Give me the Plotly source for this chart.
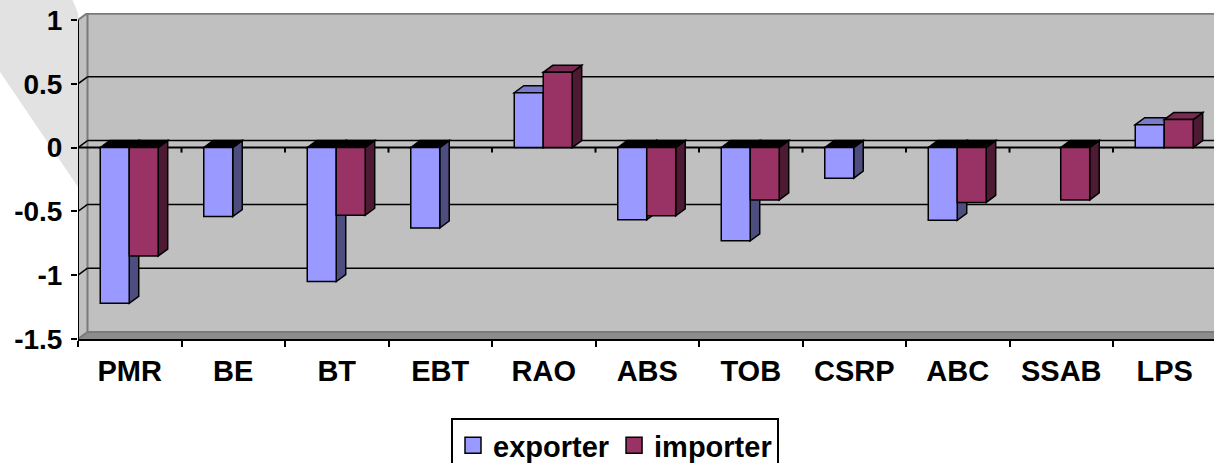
import plotly.graph_objects as go

# ---- data -------------------------------------------------------------
categories = ["PMR", "BE", "BT", "EBT", "RAO", "ABS", "TOB", "CSRP", "ABC", "SSAB", "LPS"]
exporter = [-1.22, -0.54, -1.05, -0.63, 0.43, -0.565, -0.73, -0.24, -0.57, None, 0.18]
importer = [-0.85, None, -0.53, None, 0.59, -0.535, -0.41, None, -0.43, -0.41, 0.22]
y_tick_values = [-1.5, -1, -0.5, 0, 0.5, 1]
y_tick_labels = ["-1.5", "-1", "-0.5", "0", "0.5", "1"]

# ---- geometry / style -------------------------------------------------
FIG_W, FIG_H = 1214, 463
M_L, M_R, M_T, M_B = 78, 0, 13, 124
PLOT_W = FIG_W - M_L - M_R
PLOT_H = FIG_H - M_T - M_B
CAT_PX = 103.5                      # pixels per category slot
Y_MIN, Y_MAX = -1.5, 1.0
DEPTH_PX_X, DEPTH_PX_Y = 9.5, 7.0   # 3-D depth of walls and columns
PX_PER_UNIT = (PLOT_H - DEPTH_PX_Y) / (Y_MAX - Y_MIN)
DX = DEPTH_PX_X / CAT_PX
DY = DEPTH_PX_Y / PX_PER_UNIT
X_LO = -0.5
X_HI = X_LO + PLOT_W / CAT_PX
BAR_W = 0.28
OFFSETS = {"exporter": -0.285, "importer": -0.005}

FONT = "Liberation Sans, Arial, sans-serif"
WALL = "#C0C0C0"
FLOOR = "#8C8C8C"
EDGE = "#7A7A7A"
COLORS = {
    "exporter": {"front": "#9999FF", "side": "#4D4D80", "top": "#7B7BCC"},
    "importer": {"front": "#993366", "side": "#4D1A33", "top": "#7A2952"},
}


def poly(pts):
    return "M" + " L".join(f"{x:.5f},{y:.5f}" for x, y in pts) + " Z"


shapes = []

# light backdrop sweeping in from the top-left corner (pixels from plot origin)
shapes.append(dict(
    type="path", xref="paper", yref="paper", xsizemode="pixel", ysizemode="pixel",
    xanchor=0, yanchor=0, layer="below",
    path="M-80,345 L-8,345 L0,326 L0,152 L-80,270 Z",
    fillcolor="#E2E2E2", line=dict(width=0)))

# back wall, side wall, floor
shapes.append(dict(type="rect", xref="x", yref="y", layer="below",
                   x0=X_LO + DX, x1=X_HI + 1, y0=Y_MIN + DY, y1=Y_MAX + DY,
                   fillcolor=WALL, line=dict(width=0)))
shapes.append(dict(type="path", xref="x", yref="y", layer="below",
                   path=poly([(X_LO, Y_MIN), (X_LO + DX, Y_MIN + DY),
                              (X_LO + DX, Y_MAX + DY), (X_LO, Y_MAX)]),
                   fillcolor=WALL, line=dict(width=0)))
shapes.append(dict(type="path", xref="x", yref="y", layer="below",
                   path=poly([(X_LO, Y_MIN), (X_LO + DX, Y_MIN + DY),
                              (X_HI + 1, Y_MIN + DY), (X_HI + 1, Y_MIN)]),
                   fillcolor=FLOOR, line=dict(width=0)))

# wall edges
edge = dict(color=EDGE, width=2)
shapes += [
    dict(type="line", xref="x", yref="y", layer="below", line=edge,
         x0=X_LO + DX, x1=X_LO + DX, y0=Y_MIN + DY, y1=Y_MAX + DY),
    dict(type="line", xref="x", yref="y", layer="below", line=edge,
         x0=X_LO + DX, x1=X_HI + 1, y0=Y_MAX + DY - 0.006, y1=Y_MAX + DY - 0.006),
    dict(type="line", xref="x", yref="y", layer="below", line=edge,
         x0=X_LO, x1=X_LO + DX, y0=Y_MAX, y1=Y_MAX + DY),
    dict(type="line", xref="x", yref="y", layer="below", line=edge,
         x0=X_LO + DX, x1=X_HI + 1, y0=Y_MIN + DY, y1=Y_MIN + DY),
    dict(type="line", xref="x", yref="y", layer="below", line=edge,
         x0=X_LO, x1=X_LO + DX, y0=Y_MIN, y1=Y_MIN + DY),
]

# gridlines on the back wall, with their short runs across the side wall
grid = dict(color="black", width=1.5)
for v in y_tick_values:
    if v in (Y_MIN, Y_MAX):
        continue
    shapes.append(dict(type="line", xref="x", yref="y", layer="below", line=grid,
                       x0=X_LO + DX, x1=X_HI + 1, y0=v + DY, y1=v + DY))
    shapes.append(dict(type="line", xref="x", yref="y", layer="below", line=grid,
                       x0=X_LO, x1=X_LO + DX, y0=v, y1=v + DY))

# category axis crossing at zero, with boundary ticks
shapes.append(dict(type="line", xref="x", yref="y", layer="below",
                   line=dict(color="black", width=2),
                   x0=X_LO, x1=X_HI + 1, y0=0, y1=0))
for k in range(len(categories) + 1):
    shapes.append(dict(type="line", xref="x", yref="y", ysizemode="pixel", yanchor=0,
                       layer="below", line=dict(color="black", width=2),
                       x0=k - 0.5, x1=k - 0.5, y0=0, y1=-5))

# column depth: right-hand and top faces
outline = dict(color="black", width=1.5)
for i in range(len(categories)):
    for name, series in (("exporter", exporter), ("importer", importer)):
        v = series[i]
        if v is None:
            continue
        x0 = i + OFFSETS[name]
        x1 = x0 + BAR_W
        c = COLORS[name]
        top_v = max(v, 0)
        top_fill = c["top"] if v > 0 else "black"
        shapes.append(dict(type="path", xref="x", yref="y", layer="below", line=outline,
                           fillcolor=c["side"],
                           path=poly([(x1, 0), (x1 + DX, DY), (x1 + DX, v + DY), (x1, v)])))
        shapes.append(dict(type="path", xref="x", yref="y", layer="below", line=outline,
                           fillcolor=top_fill,
                           path=poly([(x0, top_v), (x0 + DX, top_v + DY),
                                      (x1 + DX, top_v + DY), (x1, top_v)])))

# front value axis line
shapes.append(dict(type="line", xref="x", yref="y", layer="above",
                   line=dict(color="black", width=2),
                   x0=X_LO, x1=X_LO, y0=Y_MIN, y1=Y_MAX))

fig = go.Figure()
for name, series in (("exporter", exporter), ("importer", importer)):
    fig.add_trace(go.Bar(
        x=categories, y=series, name=name, showlegend=False,
        offset=OFFSETS[name], width=BAR_W,
        marker=dict(color=COLORS[name]["front"], line=outline)))
for name in ("exporter", "importer"):
    fig.add_trace(go.Scatter(
        x=[None], y=[None], mode="markers", name=name,
        marker=dict(symbol="square", size=16, color=COLORS[name]["front"],
                    line=dict(color="black", width=1.5))))

fig.update_layout(
    width=FIG_W, height=FIG_H,
    margin=dict(l=M_L, r=M_R, t=M_T, b=M_B, autoexpand=False),
    paper_bgcolor="white", plot_bgcolor="rgba(0,0,0,0)",
    barmode="overlay",
    font=dict(family=FONT, size=28, color="black", weight="bold"),
    shapes=shapes,
    showlegend=True,
    legend=dict(orientation="h", x=(615 - M_L) / PLOT_W, xanchor="center",
                y=-(418 - (M_T + PLOT_H)) / PLOT_H, yanchor="top",
                bordercolor="black", borderwidth=2, bgcolor="white",
                font=dict(family=FONT, size=29, color="black", weight="bold"),
                itemsizing="trace"),
    xaxis=dict(type="category", range=[X_LO, X_HI], showgrid=False, zeroline=False,
               showline=True, linecolor="black", linewidth=2,
               ticks="outside", tickson="boundaries", ticklen=6, tickwidth=2,
               tickcolor="black", ticklabelstandoff=5,
               tickfont=dict(family=FONT, size=29, color="black", weight="bold")),
    yaxis=dict(range=[Y_MIN, Y_MAX + DY], showgrid=False, zeroline=False, showline=False,
               tickvals=y_tick_values, ticktext=y_tick_labels,
               ticks="outside", ticklen=6, tickwidth=2, tickcolor="black",
               ticklabelstandoff=3,
               tickfont=dict(family=FONT, size=28, color="black", weight="bold")),
)

fig.write_html("out.html")
